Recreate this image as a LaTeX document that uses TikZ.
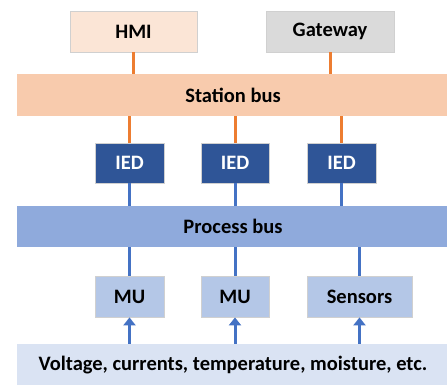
\documentclass[tikz,border=0pt]{standalone}
\usepackage{fontspec}
\setmainfont{Carlito}
\usetikzlibrary{arrows.meta}
\definecolor{hmifill}{HTML}{FBE5D6}
\definecolor{gwfill}{HTML}{DADADA}
\definecolor{sbfill}{HTML}{F8CBAD}
\definecolor{iedfill}{HTML}{2F5597}
\definecolor{pbfill}{HTML}{8FAADC}
\definecolor{mufill}{HTML}{B4C7E7}
\definecolor{botfill}{HTML}{DAE3F3}
\definecolor{orangeline}{HTML}{ED7D31}
\definecolor{blueline}{HTML}{4472C4}
\definecolor{edge}{HTML}{D0D0D0}
\tikzset{
  box/.style={draw=edge, line width=0.8pt, inner sep=0pt, font=\fontsize{20.5}{24}\selectfont\bfseries},
  bus/.style={inner sep=0pt, font=\fontsize{20.5}{24}\selectfont\bfseries},
  oline/.style={orangeline, line width=3pt},
  bline/.style={blueline, line width=3pt},
  barrow/.style={blueline, line width=3pt, -{Triangle[width=12pt,length=8pt]}},
}
\begin{document}
\begin{tikzpicture}[x=1pt,y=-1pt]
\useasboundingbox (0,0) rectangle (447,385);
\fill[white] (0,0) rectangle (447,385);
% top boxes
\node[box, fill=hmifill, minimum width=127pt, minimum height=41pt] (hmi) at (133.5,31.5) {HMI};
\node[box, fill=gwfill, minimum width=128pt, minimum height=41pt] (gw) at (330,31.5) {Gateway};
% station bus
\node[bus, fill=sbfill, minimum width=432pt, minimum height=42pt] (sbus) at (233,95) {Station bus};
% IEDs
\node[box, fill=iedfill, text=white, minimum width=69pt, minimum height=40pt] (ied1) at (129.5,163) {IED};
\node[box, fill=iedfill, text=white, minimum width=68pt, minimum height=40pt] (ied2) at (235,163) {IED};
\node[box, fill=iedfill, text=white, minimum width=69pt, minimum height=40pt] (ied3) at (341.5,163) {IED};
% process bus
\node[bus, fill=pbfill, minimum width=432pt, minimum height=41pt] (pbus) at (233,226.5) {Process bus};
% MUs
\node[box, fill=mufill, minimum width=69pt, minimum height=41pt] (mu1) at (129.5,296.5) {MU};
\node[box, fill=mufill, minimum width=68pt, minimum height=41pt] (mu2) at (235,296.5) {MU};
\node[box, fill=mufill, minimum width=105pt, minimum height=41pt] (sens) at (359.5,296.5) {Sensors};
% bottom
\node[bus, fill=botfill, minimum width=432pt, minimum height=42pt] (bot) at (233,365) {Voltage, currents, temperature, moisture, etc.};
% connectors
\draw[oline] (hmi.south) -- (hmi.south |- sbus.north);
\draw[oline] (gw.south) -- (gw.south |- sbus.north);
\foreach \i in {1,2,3} {
  \draw[oline] (ied\i.north) -- (ied\i.north |- sbus.south);
  \draw[bline] (ied\i.south) -- (ied\i.south |- pbus.north);
}
\draw[bline] (mu1.north) -- (mu1.north |- pbus.south);
\draw[bline] (mu2.north) -- (mu2.north |- pbus.south);
\draw[bline] (sens.north) -- (sens.north |- pbus.south);
\draw[barrow] (mu1.south |- bot.north) -- (mu1.south);
\draw[barrow] (mu2.south |- bot.north) -- (mu2.south);
\draw[barrow] (sens.south |- bot.north) -- (sens.south);
\end{tikzpicture}
\end{document}
